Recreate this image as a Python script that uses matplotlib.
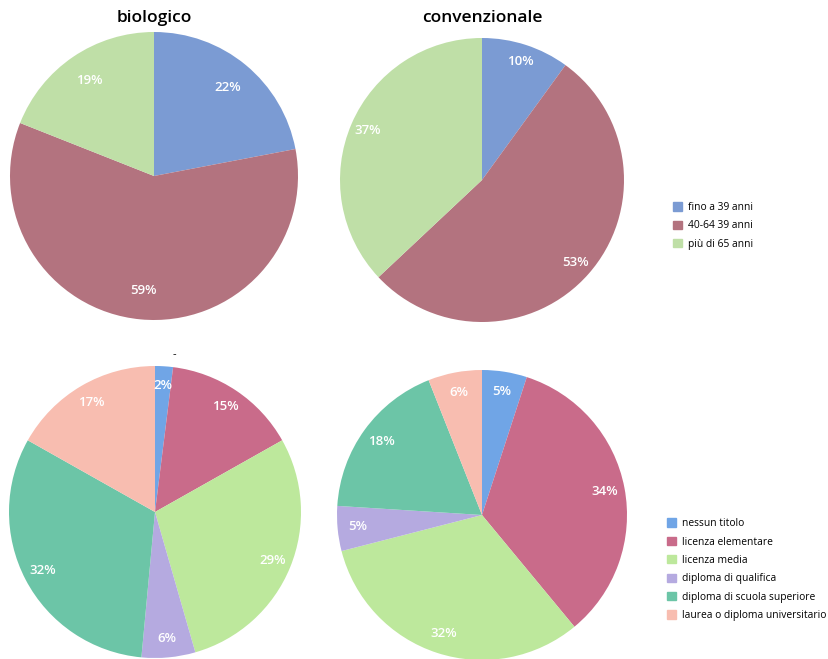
import matplotlib.pyplot as plt
from matplotlib.patches import Patch

# dati
titoli = ["biologico", "convenzionale"]

eta_labels = ["fino a 39 anni", "40-64 39 anni", "più di 65 anni"]
eta_bio = [22, 59, 19]
eta_conv = [10, 53, 37]
eta_colori = ["#7b9bd3", "#b3737f", "#bfdfa7"]

titolo_labels = ["nessun titolo", "licenza elementare", "licenza media",
                 "diploma di qualifica", "diploma di scuola superiore",
                 "laurea o diploma universitario"]
titolo_bio = [2, 15, 29, 6, 32, 17]
titolo_conv = [5, 34, 32, 5, 18, 6]
titolo_colori = ["#70a5e6", "#c96b8a", "#bde89c", "#b5aae0", "#6cc5a7", "#f8bdb0"]

W, H = 829, 659
fig = plt.figure(figsize=(W / 100, H / 100), dpi=100)
plt.rcParams['font.family'] = ['Open Sans', 'DejaVu Sans']


def torta(cx, cy, r, valori, colori, pctd):
    ax = fig.add_axes([(cx - r) / W, 1 - (cy + r) / H, 2 * r / W, 2 * r / H])
    wedges, _, testi = ax.pie(valori, colors=colori, startangle=90, counterclock=False,
                              autopct='%.0f%%', pctdistance=pctd, radius=1,
                              wedgeprops=dict(linewidth=0))
    for t, v in zip(testi, valori):
        t.set_text(f"{v}%")
        t.set_color("white")
        t.set_fontsize(9.5)
        t.set_fontweight("semibold")
    ax.set_xlim(-1, 1)
    ax.set_ylim(-1, 1)
    ax.set_aspect('equal')
    return ax, wedges


ax1, w1 = torta(154, 176, 144, eta_bio, eta_colori, 0.8)
ax2, w2 = torta(482, 180, 142, eta_conv, eta_colori, 0.88)
ax3, w3 = torta(155, 512, 146, titolo_bio, titolo_colori, 0.87)
ax4, w4 = torta(482, 515, 145, titolo_conv, titolo_colori, 0.86)

fig.text(154 / W, 1 - 18 / H, titoli[0], ha='center', va='center', fontsize=12.5, fontweight='semibold')
fig.text(482 / W, 1 - 18 / H, titoli[1], ha='center', va='center', fontsize=12.5, fontweight='semibold')
fig.text(174 / W, 1 - 355 / H, "-", ha='center', va='center', fontsize=8)

h_eta = [Patch(color=c, label=l) for c, l in zip(eta_colori, eta_labels)]
fig.legend(handles=h_eta, loc='upper left', bbox_to_anchor=(668 / W, 1 - 197 / H),
           frameon=False, fontsize=7.4, handlelength=0.85, handleheight=0.85,
           handletextpad=0.6, labelspacing=0.7, borderpad=0)

h_tit = [Patch(color=c, label=l) for c, l in zip(titolo_colori, titolo_labels)]
fig.legend(handles=h_tit, loc='upper left', bbox_to_anchor=(662 / W, 1 - 513 / H),
           frameon=False, fontsize=7.4, handlelength=0.85, handleheight=0.85,
           handletextpad=0.6, labelspacing=0.72, borderpad=0)

fig.savefig("out.png", dpi=100)
